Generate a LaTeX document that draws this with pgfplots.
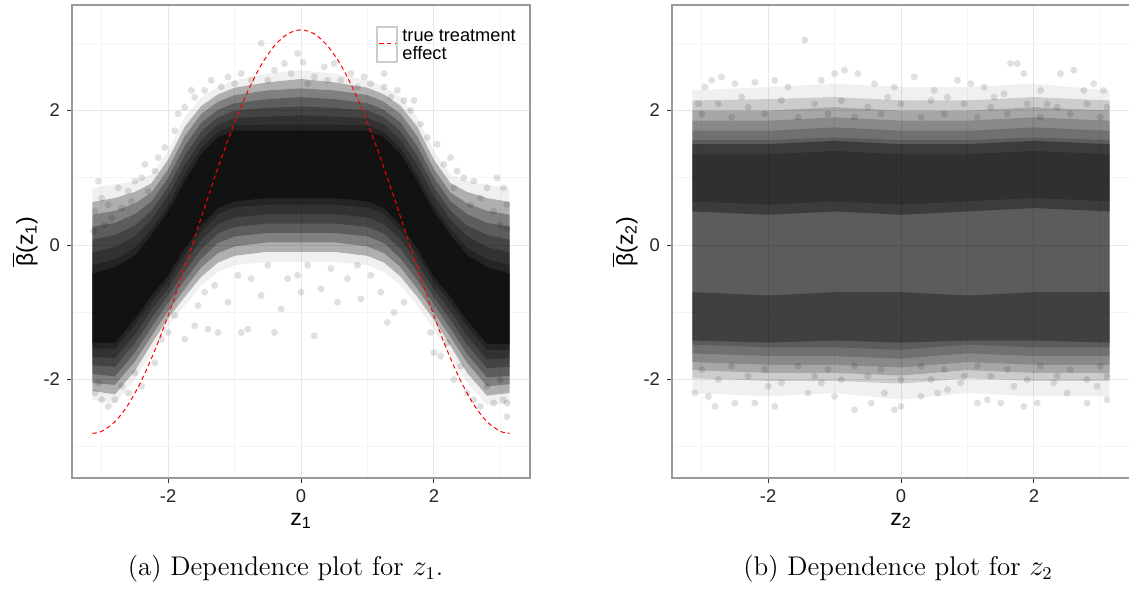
\documentclass[border=0pt]{standalone}
\usepackage{fontspec}
\usepackage{pgfplots}
\pgfplotsset{compat=1.18}
\newfontfamily\hv{Liberation Sans}

\pgfplotsset{
  panel/.style={
    scale only axis, width=229pt, height=236.5pt,
    xmin=-3.447, xmax=3.447, ymin=-3.464, ymax=3.57,
    xtick={-2,0,2}, ytick={-2,0,2},
    minor xtick={-3,-1,1,3}, minor ytick={-3,-1,1,3},
    grid=both,
    major grid style={draw=black!9, line width=0.5pt},
    minor grid style={draw=black!4, line width=0.5pt},
    axis line style={draw=black!40, line width=0.6pt},
    tick align=outside, xtick pos=bottom, ytick pos=left,
    major tick length=2.5pt, minor tick length=0pt,
    tick style={draw=black!80, line width=0.5pt},
    ticklabel style={font=\hv\fontsize{9.2}{11}\selectfont, text=black!85},
    /pgf/number format/assume math mode=true,
    label style={font=\hv\fontsize{11.5}{13}\selectfont},
    xlabel style={at={(axis description cs:0.5,-0.0994)}, anchor=base},
    ylabel style={at={(axis description cs:-0.1026,0.5)}, anchor=center},
  },
  layer/.style={draw=none, fill=black, fill opacity=#1, forget plot},
  pts/.style={only marks, mark=*, mark size=1.75pt,
    mark options={draw opacity=0, fill=black, fill opacity=0.12}, forget plot},
}

\begin{document}
\begin{tikzpicture}
\useasboundingbox (0,0) rectangle (564.5pt,298pt);

% ---------------- left panel ----------------
\begin{axis}[panel, at={(36pt,59pt)}, anchor=south west,
  xlabel={z\textsubscript{1}},
  ylabel={$\overline{\hbox{\hv β}}$(z\textsubscript{1})}]

% density layers (outer -> inner)
\addplot[layer=0.06] coordinates {
(-3.14,0.85)(-2.8,0.9)(-2.5,0.95)(-2.25,1.05)(-2,1.4)(-1.75,1.9)(-1.5,2.2)(-1.25,2.35)(-1,2.45)(-0.5,2.55)(0,2.6)
(0.5,2.55)(1,2.45)(1.25,2.35)(1.5,2.2)(1.75,1.9)(2,1.4)(2.25,1.05)(2.5,0.95)(2.8,0.9)(3.14,0.85)
(3.14,-2.35)(2.8,-2.38)(2.5,-2.05)(2.25,-1.65)(2,-1.25)(1.75,-0.9)(1.5,-0.6)(1.25,-0.4)(1,-0.3)(0.5,-0.25)(0,-0.25)
(-0.5,-0.25)(-1,-0.3)(-1.25,-0.4)(-1.5,-0.6)(-1.75,-0.9)(-2,-1.2)(-2.25,-1.6)(-2.5,-2.0)(-2.8,-2.35)(-3.14,-2.3)
} -- cycle;
\addplot[layer=0.27] coordinates {
(-3.14,0.64)(-2.8,0.7)(-2.5,0.79)(-2.25,0.92)(-2,1.27)(-1.75,1.76)(-1.5,2.07)(-1.25,2.24)(-1,2.34)(-0.5,2.42)(0,2.47)
(0.5,2.42)(1,2.34)(1.25,2.24)(1.5,2.07)(1.75,1.76)(2,1.27)(2.25,0.92)(2.5,0.79)(2.8,0.7)(3.14,0.64)
(3.14,-2.2)(2.8,-2.24)(2.5,-1.9)(2.25,-1.5)(2,-1.11)(1.75,-0.77)(1.5,-0.47)(1.25,-0.26)(1,-0.16)(0.5,-0.1)(0,-0.1)
(-0.5,-0.1)(-1,-0.16)(-1.25,-0.26)(-1.5,-0.47)(-1.75,-0.77)(-2,-1.09)(-2.25,-1.47)(-2.5,-1.87)(-2.8,-2.22)(-3.14,-2.17)
} -- cycle;
\addplot[layer=0.27] coordinates {
(-3.14,0.45)(-2.8,0.51)(-2.5,0.62)(-2.25,0.78)(-2,1.13)(-1.75,1.62)(-1.5,1.95)(-1.25,2.13)(-1,2.23)(-0.5,2.3)(0,2.33)
(0.5,2.3)(1,2.23)(1.25,2.13)(1.5,1.95)(1.75,1.62)(2,1.13)(2.25,0.78)(2.5,0.62)(2.8,0.51)(3.14,0.45)
(3.14,-2.07)(2.8,-2.1)(2.5,-1.75)(2.25,-1.37)(2,-1.0)(1.75,-0.65)(1.5,-0.33)(1.25,-0.12)(1,-0.02)(0.5,0.04)(0,0.04)
(-0.5,0.04)(-1,-0.02)(-1.25,-0.12)(-1.5,-0.33)(-1.75,-0.65)(-2,-0.98)(-2.25,-1.35)(-2.5,-1.73)(-2.8,-2.08)(-3.14,-2.05)
} -- cycle;
\addplot[layer=0.27] coordinates {
(-3.14,0.27)(-2.8,0.33)(-2.5,0.46)(-2.25,0.65)(-2,1.0)(-1.75,1.47)(-1.5,1.82)(-1.25,2.01)(-1,2.11)(-0.5,2.17)(0,2.2)
(0.5,2.17)(1,2.11)(1.25,2.01)(1.5,1.82)(1.75,1.47)(2,1.0)(2.25,0.65)(2.5,0.46)(2.8,0.33)(3.14,0.27)
(3.14,-1.94)(2.8,-1.97)(2.5,-1.62)(2.25,-1.24)(2,-0.88)(1.75,-0.52)(1.5,-0.2)(1.25,0.03)(1,0.13)(0.5,0.18)(0,0.18)
(-0.5,0.18)(-1,0.13)(-1.25,0.03)(-1.5,-0.2)(-1.75,-0.52)(-2,-0.86)(-2.25,-1.22)(-2.5,-1.6)(-2.8,-1.95)(-3.14,-1.92)
} -- cycle;
\addplot[layer=0.27] coordinates {
(-3.14,0.08)(-2.8,0.15)(-2.5,0.29)(-2.25,0.51)(-2,0.86)(-1.75,1.33)(-1.5,1.69)(-1.25,1.9)(-1,2.0)(-0.5,2.04)(0,2.06)
(0.5,2.04)(1,2.0)(1.25,1.9)(1.5,1.69)(1.75,1.33)(2,0.86)(2.25,0.51)(2.5,0.29)(2.8,0.15)(3.14,0.08)
(3.14,-1.81)(2.8,-1.83)(2.5,-1.48)(2.25,-1.11)(2,-0.77)(1.75,-0.39)(1.5,-0.06)(1.25,0.17)(1,0.27)(0.5,0.32)(0,0.32)
(-0.5,0.32)(-1,0.27)(-1.25,0.17)(-1.5,-0.06)(-1.75,-0.39)(-2,-0.75)(-2.25,-1.09)(-2.5,-1.46)(-2.8,-1.81)(-3.14,-1.79)
} -- cycle;
\addplot[layer=0.27] coordinates {
(-3.14,-0.11)(-2.8,-0.03)(-2.5,0.13)(-2.25,0.38)(-2,0.73)(-1.75,1.19)(-1.5,1.56)(-1.25,1.79)(-1,1.89)(-0.5,1.91)(0,1.93)
(0.5,1.91)(1,1.89)(1.25,1.79)(1.5,1.56)(1.75,1.19)(2,0.73)(2.25,0.38)(2.5,0.13)(2.8,-0.03)(3.14,-0.11)
(3.14,-1.68)(2.8,-1.7)(2.5,-1.35)(2.25,-0.98)(2,-0.66)(1.75,-0.26)(1.5,0.08)(1.25,0.31)(1,0.41)(0.5,0.46)(0,0.46)
(-0.5,0.46)(-1,0.41)(-1.25,0.31)(-1.5,0.08)(-1.75,-0.26)(-2,-0.64)(-2.25,-0.96)(-2.5,-1.33)(-2.8,-1.68)(-3.14,-1.66)
} -- cycle;
\addplot[layer=0.27] coordinates {
(-3.14,-0.3)(-2.8,-0.21)(-2.5,-0.04)(-2.25,0.24)(-2,0.59)(-1.75,1.05)(-1.5,1.44)(-1.25,1.68)(-1,1.78)(-0.5,1.79)(0,1.79)
(0.5,1.79)(1,1.78)(1.25,1.68)(1.5,1.44)(1.75,1.05)(2,0.59)(2.25,0.24)(2.5,-0.04)(2.8,-0.21)(3.14,-0.3)
(3.14,-1.56)(2.8,-1.56)(2.5,-1.21)(2.25,-0.86)(2,-0.55)(1.75,-0.14)(1.5,0.21)(1.25,0.46)(1,0.56)(0.5,0.6)(0,0.6)
(-0.5,0.6)(-1,0.56)(-1.25,0.46)(-1.5,0.21)(-1.75,-0.14)(-2,-0.53)(-2.25,-0.84)(-2.5,-1.19)(-2.8,-1.54)(-3.14,-1.54)
} -- cycle;
\addplot[layer=0.5] coordinates {
(-3.14,-0.42)(-2.8,-0.33)(-2.5,-0.15)(-2.25,0.15)(-2,0.5)(-1.75,0.95)(-1.5,1.35)(-1.25,1.6)(-1,1.7)(-0.5,1.7)(0,1.7)
(0.5,1.7)(1,1.7)(1.25,1.6)(1.5,1.35)(1.75,0.95)(2,0.5)(2.25,0.15)(2.5,-0.15)(2.8,-0.33)(3.14,-0.42)
(3.14,-1.47)(2.8,-1.47)(2.5,-1.12)(2.25,-0.77)(2,-0.47)(1.75,-0.05)(1.5,0.3)(1.25,0.55)(1,0.65)(0.5,0.7)(0,0.7)
(-0.5,0.7)(-1,0.65)(-1.25,0.55)(-1.5,0.3)(-1.75,-0.05)(-2,-0.45)(-2.25,-0.75)(-2.5,-1.1)(-2.8,-1.45)(-3.14,-1.45)
} -- cycle;

% scattered points
\addplot[pts] coordinates {
(-0.6,3.0)(-0.25,2.7)(0.03,2.72)(-0.4,2.6)(0.35,2.65)(0.95,2.5)(0.6,2.45)(-0.75,2.45)(-1.0,2.4)(-1.2,2.35)
(-1.45,2.3)(-1.6,2.2)(-1.75,2.05)(1.25,2.35)(1.45,2.3)(1.55,2.15)(1.65,2.0)(1.8,1.8)(-1.9,1.7)(-0.15,2.55)
(0.2,2.5)(-0.9,2.55)(0.75,2.55)(1.05,2.4)(-1.35,2.45)(0.5,2.7)(-0.05,2.85)(1.25,2.55)
(-1.85,1.95)(-1.65,2.3)(-1.1,2.5)(-0.5,2.45)(0.1,2.4)(0.4,2.45)(0.85,2.35)(1.35,2.2)(1.7,2.15)(1.9,1.6)
(-2.05,1.45)(-2.2,1.1)(-2.4,1.0)(-2.5,0.95)(-2.6,0.8)(-2.75,0.85)(-2.9,0.6)(-3.05,0.95)(-3.1,0.5)(-2.95,0.3)
(-2.7,0.55)(-2.3,0.8)(-3.0,0.7)(-2.15,1.3)(-2.85,0.4)(-3.12,0.2)(-2.55,0.65)(-2.35,1.2)
(2.25,1.3)(2.45,1.0)(2.6,0.95)(2.8,0.85)(2.95,1.0)(3.05,0.85)(3.1,0.6)(2.7,0.7)(2.35,1.1)(2.15,1.2)(2.9,0.5)(3.0,0.3)
(2.05,1.5)(2.55,0.6)(2.3,0.85)(3.1,0.25)
(-1.4,-1.25)(-1.25,-1.3)(-0.9,-1.3)(-0.8,-1.25)(-0.4,-1.3)(0.2,-1.35)(-0.3,-0.95)(0.55,-0.85)(0.9,-0.8)
(-1.55,-0.9)(-1.1,-0.85)(-0.6,-0.75)(0.0,-0.7)(0.3,-0.65)(1.2,-0.7)(1.4,-1.0)(-0.2,-0.5)(0.7,-0.5)
(-0.75,-0.5)(1.05,-0.45)(-1.6,-1.2)(-1.75,-1.4)(1.3,-1.15)(-1.3,-0.6)(0.45,-0.35)(-0.5,-0.3)(0.1,-0.3)
(-0.95,-0.45)(0.85,-0.3)(-0.05,-0.45)(1.55,-0.85)(-1.45,-0.7)
(-2.9,-2.4)(-2.8,-2.3)(-3.1,-2.2)(-2.6,-2.2)(-2.4,-2.1)(-2.2,-1.75)(-2.1,-1.4)(-2.0,-1.3)(-1.9,-1.05)
(-2.7,-2.1)(-3.0,-2.3)(-2.5,-1.9)(-3.05,-2.05)
(3.1,-2.55)(3.05,-2.3)(2.9,-2.35)(2.7,-2.4)(2.5,-2.2)(2.3,-2.0)(2.1,-1.65)(1.95,-1.3)(2.0,-1.6)(2.4,-1.8)
(2.8,-2.1)(2.6,-2.3)(3.0,-2.0)(2.2,-1.45)(3.1,-2.35)
};

% true treatment effect
\addplot[red, line width=0.5pt, dash pattern=on 2.2pt off 1.6pt, smooth, forget plot] coordinates {
(-3.14,-2.8)(-3.0,-2.77)(-2.8,-2.6267)(-2.6,-2.3707)(-2.4,-2.0122)(-2.2,-1.5655)(-2.0,-1.0484)
(-1.8,-0.4816)(-1.6,0.1124)(-1.4,0.7099)(-1.2,1.2871)(-1.0,1.8209)(-0.8,2.2901)(-0.6,2.676)
(-0.4,2.9632)(-0.2,3.1402)(0,3.2)(0.2,3.1402)(0.4,2.9632)(0.6,2.676)(0.8,2.2901)(1.0,1.8209)
(1.2,1.2871)(1.4,0.7099)(1.6,0.1124)(1.8,-0.4816)(2.0,-1.0484)(2.2,-1.5655)(2.4,-2.0122)
(2.6,-2.3707)(2.8,-2.6267)(3.0,-2.77)(3.14,-2.8)
};
\end{axis}

% legend of the left panel
\fill[white] (188.5pt,284.5pt) rectangle (198.5pt,267pt);
\draw[black!20, line width=0.6pt] (188.5pt,284.5pt) rectangle (198.5pt,267pt);
\draw[red, line width=0.7pt, dash pattern=on 2.2pt off 1.6pt] (189.7pt,276.2pt) -- (197.7pt,276.2pt);
\node[anchor=north west, align=left, inner sep=0pt, font=\hv\fontsize{9.1}{9.2}\selectfont]
  at (201pt,283.3pt) {true treatment\\effect};

% ---------------- right panel ----------------
\begin{axis}[panel, at={(336pt,59pt)}, anchor=south west,
  xlabel={z\textsubscript{2}},
  ylabel={$\overline{\hbox{\hv β}}$(z\textsubscript{2})}]

\addplot[layer=0.06] coordinates {
(-3.14,2.3)(-2,2.35)(-1,2.4)(0,2.35)(1,2.35)(2,2.4)(3.14,2.3)
(3.14,-2.25)(2,-2.25)(1,-2.2)(0,-2.3)(-1,-2.2)(-2,-2.25)(-3.14,-2.2)
} -- cycle;
\addplot[layer=0.15] coordinates {
(-3.14,2.15)(-2,2.17)(-1,2.2)(0,2.15)(1,2.15)(2,2.2)(3.14,2.15)
(3.14,-2.02)(2,-2.02)(1,-1.98)(0,-2.06)(-1,-2.02)(-2,-2.02)(-3.14,-1.98)
} -- cycle;
\addplot[layer=0.18] coordinates {
(-3.14,2.0)(-2,2.0)(-1,2.05)(0,2.0)(1,2.0)(2,2.05)(3.14,2.0)
(3.14,-1.9)(2,-1.9)(1,-1.86)(0,-1.94)(-1,-1.9)(-2,-1.9)(-3.14,-1.86)
} -- cycle;
\addplot[layer=0.18] coordinates {
(-3.14,1.85)(-2,1.85)(-1,1.9)(0,1.85)(1,1.85)(2,1.9)(3.14,1.85)
(3.14,-1.78)(2,-1.78)(1,-1.74)(0,-1.82)(-1,-1.78)(-2,-1.78)(-3.14,-1.74)
} -- cycle;
\addplot[layer=0.18] coordinates {
(-3.14,1.7)(-2,1.7)(-1,1.75)(0,1.7)(1,1.7)(2,1.75)(3.14,1.7)
(3.14,-1.65)(2,-1.65)(1,-1.61)(0,-1.69)(-1,-1.65)(-2,-1.65)(-3.14,-1.61)
} -- cycle;
\addplot[layer=0.18] coordinates {
(-3.14,1.56)(-2,1.56)(-1,1.6)(0,1.56)(1,1.56)(2,1.6)(3.14,1.56)
(3.14,-1.52)(2,-1.52)(1,-1.48)(0,-1.56)(-1,-1.52)(-2,-1.52)(-3.14,-1.48)
} -- cycle;
\addplot[layer=0.35] coordinates {
(-3.14,1.5)(-2,1.5)(-1,1.55)(0,1.5)(1,1.5)(2,1.55)(3.14,1.5)
(3.14,0.5)(2,0.55)(1,0.5)(0,0.45)(-1,0.5)(-2,0.45)(-3.14,0.5)
} -- cycle;
\addplot[layer=0.2] coordinates {
(-3.14,1.35)(-2,1.35)(-1,1.4)(0,1.35)(1,1.35)(2,1.4)(3.14,1.35)
(3.14,0.65)(2,0.7)(1,0.65)(0,0.6)(-1,0.65)(-2,0.6)(-3.14,0.65)
} -- cycle;
\addplot[layer=0.3] coordinates {
(-3.14,-0.7)(-2,-0.75)(-1,-0.7)(0,-0.7)(1,-0.75)(2,-0.7)(3.14,-0.7)
(3.14,-1.45)(2,-1.42)(1,-1.42)(0,-1.45)(-1,-1.42)(-2,-1.45)(-3.14,-1.42)
} -- cycle;

\addplot[pts] coordinates {
(-1.45,3.05)(-2.95,2.35)(-2.85,2.45)(-2.7,2.5)(-2.5,2.4)(-2.2,2.42)(-1.9,2.45)(-1.7,2.35)(-1.2,2.45)
(-1.0,2.55)(-0.85,2.6)(-0.65,2.55)(-0.4,2.4)(-0.1,2.35)(0.2,2.5)(0.5,2.3)(0.85,2.45)(1.05,2.4)
(1.25,2.35)(1.55,2.25)(1.65,2.7)(1.75,2.7)(1.85,2.55)(2.1,2.3)(2.4,2.55)(2.6,2.6)(2.75,2.3)(2.9,2.4)
(3.05,2.3)(-2.4,2.2)(-0.2,2.2)(0.7,2.2)(1.4,2.2)(2.2,2.1)(-3.05,2.1)
(-3.0,1.95)(-2.75,2.1)(-2.55,1.9)(-2.3,2.05)(-2.05,1.95)(-1.8,2.15)(-1.55,1.9)(-1.3,2.1)(-1.1,1.95)
(-0.9,2.15)(-0.7,1.9)(-0.5,2.05)(-0.3,1.95)(0.0,2.1)(0.3,1.9)(0.45,2.15)(0.65,1.95)(0.95,2.1)
(1.15,1.9)(1.35,2.05)(1.6,1.95)(1.9,2.1)(2.1,1.9)(2.35,2.05)(2.55,1.95)(2.8,2.1)(3.0,1.9)(3.1,2.05)
(-3.1,-2.2)(-2.9,-2.25)(-2.8,-2.4)(-2.5,-2.35)(-2.2,-2.35)(-1.9,-2.4)(-1.4,-2.2)(-1.0,-2.25)(-0.7,-2.45)
(-0.45,-2.35)(-0.25,-2.2)(-0.1,-2.45)(0.0,-2.4)(0.3,-2.25)(0.55,-2.2)(0.7,-2.15)(1.15,-2.35)(1.3,-2.3)
(1.5,-2.35)(1.85,-2.4)(2.05,-2.35)(2.5,-2.2)(2.8,-2.35)(3.1,-2.3)(-2.0,-2.1)(-1.2,-2.05)(0.9,-2.05)
(1.7,-2.1)(2.3,-2.05)(2.95,-2.1)
(-3.0,-1.85)(-2.75,-2.0)(-2.55,-1.8)(-2.3,-1.95)(-2.05,-1.85)(-1.8,-2.05)(-1.55,-1.8)(-1.3,-1.95)
(-1.1,-1.85)(-0.9,-2.0)(-0.7,-1.8)(-0.5,-1.95)(-0.3,-1.85)(0.0,-2.0)(0.3,-1.8)(0.45,-2.0)(0.65,-1.85)
(0.95,-1.95)(1.15,-1.8)(1.35,-1.95)(1.6,-1.85)(1.9,-2.0)(2.1,-1.8)(2.35,-1.95)(2.55,-1.85)(2.8,-2.0)
(3.0,-1.8)(3.1,-1.95)
};
\end{axis}

% captions
\node[anchor=base, inner sep=0pt, font=\fontsize{13.5}{16}\selectfont] at (142.75pt,10.5pt) {(a) Dependence plot for $z_1$.};
\node[anchor=base, inner sep=0pt, font=\fontsize{13.5}{16}\selectfont] at (449pt,10.5pt) {(b) Dependence plot for $z_2$};
\end{tikzpicture}
\end{document}
